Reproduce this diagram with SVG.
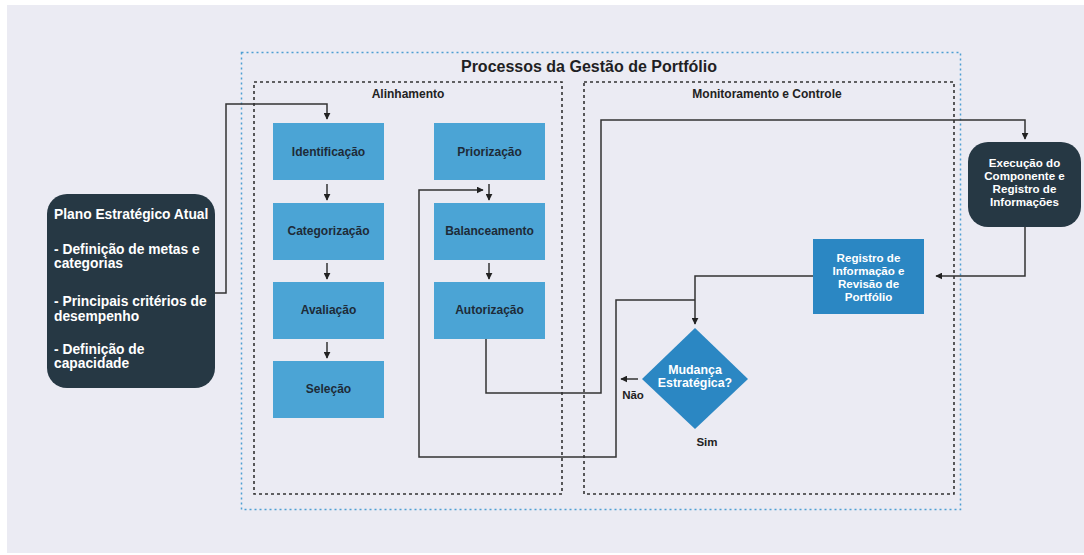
<svg xmlns="http://www.w3.org/2000/svg" width="1084" height="555" viewBox="0 0 1084 555">
  <defs>
    <style>
      text { font-family: "Liberation Sans", Arial, sans-serif; font-weight: bold; }
      .title { font-size: 16px; fill: #1f1f24; }
      .lane { font-size: 12px; fill: #222; }
      .step { fill: #4ba4d5; }
      .step-t { font-size: 12px; fill: #1e2b38; text-anchor: middle; }
      .dark { fill: #263844; }
      .white-t { font-size: 11.6px; fill: #ffffff; text-anchor: middle; }
      .dia-t { font-size: 12.4px; fill: #ffffff; text-anchor: middle; }
      .plan-t { font-size: 13.8px; fill: #ffffff; }
      .review { fill: #2b87c3; }
      .lbl { font-size: 11.5px; fill: #222; }
      .conn { fill: none; stroke: #333; stroke-width: 1.5; }
      .frame-blue { fill: none; stroke: #4e9fd3; stroke-width: 1.5; stroke-dasharray: 2 3; }
      .frame-black { fill: none; stroke: #333; stroke-width: 1.6; stroke-dasharray: 3 3; }
    </style>
    <marker id="arrow" viewBox="0 0 10 10" refX="9" refY="5" markerWidth="7" markerHeight="7" markerUnits="userSpaceOnUse" orient="auto">
      <path d="M0,0 L10,5 L0,10 z" fill="#222"/>
    </marker>
  </defs>

  <!-- page background -->
  <rect x="0" y="0" width="1084" height="555" fill="#ffffff"/>
  <rect x="7" y="5" width="1077" height="548" fill="#ebebf3"/>

  <!-- frames -->
  <g id="frames">
    <rect class="frame-blue" x="241.5" y="52.5" width="719" height="457"/>
    <rect class="frame-black" x="254" y="82" width="308" height="412"/>
    <rect class="frame-black" x="584" y="82" width="370" height="412"/>
    <text class="title" x="589" y="72" text-anchor="middle">Processos da Gestão de Portfólio</text>
    <text class="lane" x="408" y="98" text-anchor="middle">Alinhamento</text>
    <text class="lane" x="767" y="98" text-anchor="middle">Monitoramento e Controle</text>
  </g>

  <!-- connectors -->
  <g id="connectors">
    <polyline class="conn" points="215,293 226,293 226,104 327,104 327,119" marker-end="url(#arrow)"/>
    <line class="conn" x1="327" y1="184" x2="327" y2="200" marker-end="url(#arrow)"/>
    <line class="conn" x1="327" y1="263" x2="327" y2="279" marker-end="url(#arrow)"/>
    <line class="conn" x1="327" y1="342" x2="327" y2="358" marker-end="url(#arrow)"/>
    <line class="conn" x1="489" y1="184" x2="489" y2="200" marker-end="url(#arrow)"/>
    <line class="conn" x1="489" y1="263" x2="489" y2="279" marker-end="url(#arrow)"/>
    <polyline class="conn" points="486,339 486,393 601,393 601,120 1025,120 1025,139" marker-end="url(#arrow)"/>
    <polyline class="conn" points="1025,227 1025,276 936,276" marker-end="url(#arrow)"/>
    <polyline class="conn" points="813,276 695,276 695,324" marker-end="url(#arrow)"/>
    <polyline class="conn" points="695,300 616,300 616,457 419,457 419,190 483,190" marker-end="url(#arrow)"/>
    <line class="conn" x1="638" y1="379" x2="621" y2="379" marker-end="url(#arrow)"/>
    <text class="lbl" x="633" y="399" text-anchor="middle">Não</text>
    <text class="lbl" x="707" y="446" text-anchor="middle">Sim</text>
  </g>

  <!-- strategic plan -->
  <g id="plano">
    <rect class="dark" x="47" y="194" width="168" height="194" rx="20"/>
    <text class="plan-t" x="54" y="219">Plano Estratégico Atual</text>
    <text class="plan-t" x="54" y="254">- Definição de metas e</text>
    <text class="plan-t" x="54" y="268">categorias</text>
    <text class="plan-t" x="54" y="306">- Principais critérios de</text>
    <text class="plan-t" x="54" y="321">desempenho</text>
    <text class="plan-t" x="54" y="354">- Definição de</text>
    <text class="plan-t" x="54" y="368">capacidade</text>
  </g>

  <!-- alignment steps -->
  <g id="identificacao">
    <rect class="step" x="273" y="123" width="111" height="57"/>
    <text class="step-t" x="328.5" y="156">Identificação</text>
  </g>
  <g id="categorizacao">
    <rect class="step" x="273" y="203" width="111" height="57"/>
    <text class="step-t" x="328.5" y="235">Categorização</text>
  </g>
  <g id="avaliacao">
    <rect class="step" x="273" y="282" width="111" height="57"/>
    <text class="step-t" x="328.5" y="314">Avaliação</text>
  </g>
  <g id="selecao">
    <rect class="step" x="273" y="361" width="111" height="57"/>
    <text class="step-t" x="328.5" y="393">Seleção</text>
  </g>
  <g id="priorizacao">
    <rect class="step" x="434" y="123" width="111" height="57"/>
    <text class="step-t" x="489.5" y="156">Priorização</text>
  </g>
  <g id="balanceamento">
    <rect class="step" x="434" y="203" width="111" height="57"/>
    <text class="step-t" x="489.5" y="235">Balanceamento</text>
  </g>
  <g id="autorizacao">
    <rect class="step" x="434" y="282" width="111" height="57"/>
    <text class="step-t" x="489.5" y="314">Autorização</text>
  </g>

  <!-- monitoring -->
  <g id="execucao">
    <rect class="dark" x="968" y="142" width="113" height="85" rx="20"/>
    <text class="white-t" x="1024.5" y="167">Execução do</text>
    <text class="white-t" x="1024.5" y="180">Componente e</text>
    <text class="white-t" x="1024.5" y="193">Registro de</text>
    <text class="white-t" x="1024.5" y="206">Informações</text>
  </g>
  <g id="registro">
    <rect class="review" x="813" y="239" width="111" height="75"/>
    <text class="white-t" x="868.5" y="262">Registro de</text>
    <text class="white-t" x="868.5" y="275">Informação e</text>
    <text class="white-t" x="868.5" y="288">Revisão de</text>
    <text class="white-t" x="868.5" y="301">Portfólio</text>
  </g>
  <g id="mudanca">
    <polygon class="review" points="695,328 748,379 695,429 642,379"/>
    <text class="dia-t" x="695" y="374">Mudança</text>
    <text class="dia-t" x="695" y="387">Estratégica?</text>
  </g>
</svg>
